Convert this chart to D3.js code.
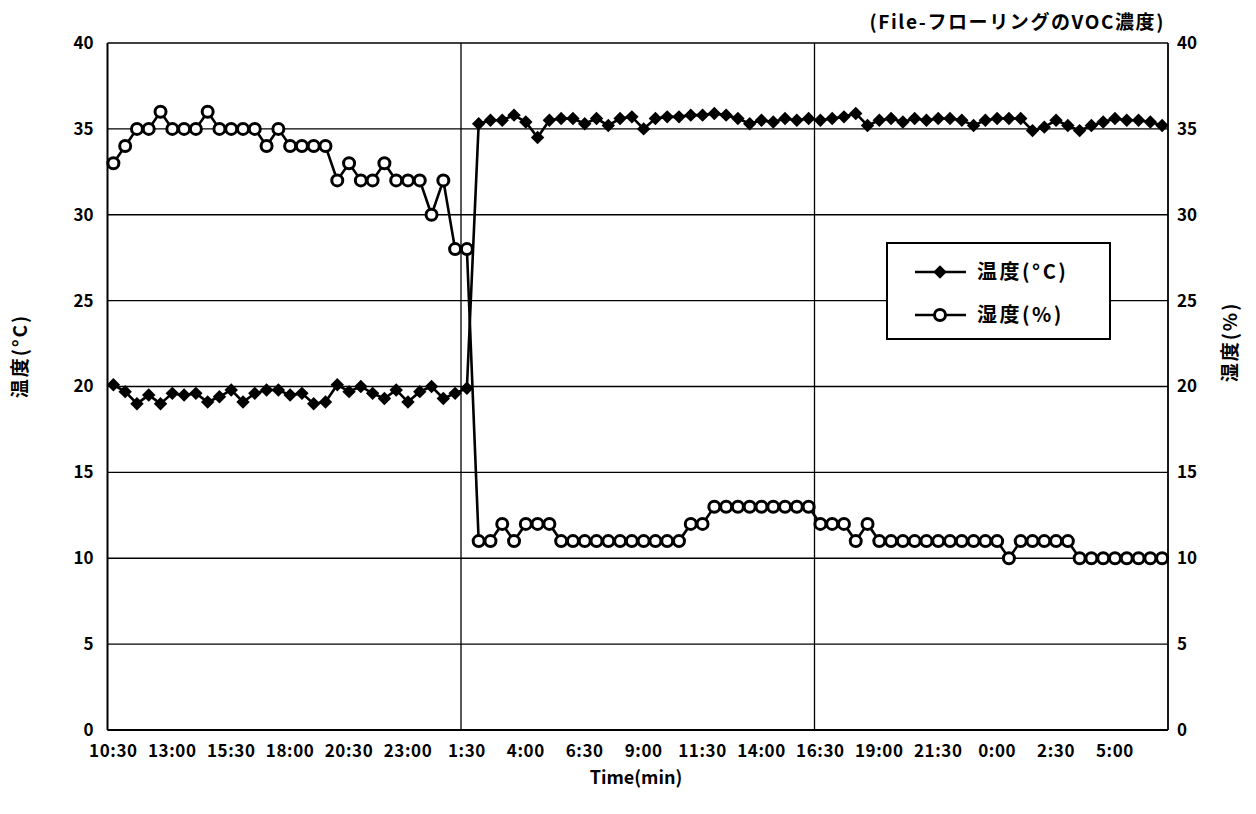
<!DOCTYPE html>
<html>
<head>
<meta charset="utf-8">
<script src="https://cdn.jsdelivr.net/npm/d3@7"></script>
<style>
  body { margin: 0; background: #fff; }
  text { font-family: "Noto Sans CJK JP", "Noto Sans", sans-serif; fill: #000; }
</style>
</head>
<body>
<div id="chart"></div>
<script>
// time labels shown on the x axis (one every 5 readings, readings every 30 min)
const tickLabels = ["10:30", "13:00", "15:30", "18:00", "20:30", "23:00", "1:30", "4:00", "6:30",
  "9:00", "11:30", "14:00", "16:30", "19:00", "21:30", "0:00", "2:30", "5:00"];

// temperature (°C), left axis
const temperature = [
  20.1, 19.7, 19.0, 19.5, 19.0, 19.6, 19.5, 19.6, 19.1, 19.4, 19.8, 19.1, 19.6, 19.8, 19.8, 19.5,
  19.6, 19.0, 19.1, 20.1, 19.7, 20.0, 19.6, 19.3, 19.8, 19.1, 19.7, 20.0, 19.3, 19.6, 19.9,
  35.3, 35.5, 35.5, 35.8, 35.4, 34.5, 35.5, 35.6, 35.6, 35.3, 35.6, 35.2, 35.6, 35.7, 35.0, 35.6,
  35.7, 35.7, 35.8, 35.8, 35.9, 35.8, 35.6, 35.3, 35.5, 35.4, 35.6, 35.5, 35.6,
  35.5, 35.6, 35.7, 35.9, 35.2, 35.5, 35.6, 35.4, 35.6, 35.5, 35.6, 35.6, 35.5, 35.2, 35.5, 35.6,
  35.6, 35.6, 34.9, 35.1, 35.5, 35.2, 34.9, 35.2, 35.4, 35.6, 35.5, 35.5, 35.4, 35.2
];

// humidity (%), right axis
const humidity = [
  33, 34, 35, 35, 36, 35, 35, 35, 36, 35, 35, 35, 35, 34, 35, 34, 34, 34, 34, 32, 33, 32, 32, 33,
  32, 32, 32, 30, 32, 28, 28,
  11, 11, 12, 11, 12, 12, 12, 11, 11, 11, 11, 11, 11, 11, 11, 11, 11, 11, 12, 12,
  13, 13, 13, 13, 13, 13, 13, 13, 13, 12, 12, 12, 11, 12,
  11, 11, 11, 11, 11, 11, 11, 11, 11, 11, 11, 10, 11, 11, 11, 11, 11,
  10, 10, 10, 10, 10, 10, 10, 10
];

const yTicks = [0, 5, 10, 15, 20, 25, 30, 35, 40];

const W = 1256, H = 814;
const plotL = 107.5, plotR = 1168, plotT = 43, plotB = 730;

const svg = d3.select("#chart").append("svg")
  .attr("width", W)
  .attr("height", H);

const idx = d3.range(temperature.length);

var x = d3.scaleBand()
  .domain(idx)
  .range([plotL, plotR]);

var y = d3.scaleLinear()
  .domain([0, 40])
  .range([plotB, plotT]);

var y2 = d3.scaleLinear()
  .domain([0, 40])
  .range([plotB, plotT]);

const cx = i => x(i) + x.bandwidth() / 2;

// horizontal gridlines
svg.append("g")
  .selectAll("line")
  .data(yTicks)
  .enter()
  .append("line")
  .attr("x1", plotL).attr("x2", plotR)
  .attr("y1", d => y(d)).attr("y2", d => y(d))
  .attr("stroke", "#000")
  .attr("stroke-width", 1.4);

// vertical gridlines every 30 readings
svg.append("g")
  .selectAll("line")
  .data([30, 60])
  .enter()
  .append("line")
  .attr("x1", d => x(d)).attr("x2", d => x(d))
  .attr("y1", plotT).attr("y2", plotB)
  .attr("stroke", "#000")
  .attr("stroke-width", 1.3);

// frame sides
svg.append("line").attr("x1", plotL).attr("x2", plotL).attr("y1", plotT).attr("y2", plotB)
  .attr("stroke", "#000").attr("stroke-width", 2);
svg.append("line").attr("x1", plotR).attr("x2", plotR).attr("y1", plotT).attr("y2", plotB)
  .attr("stroke", "#000").attr("stroke-width", 1.8);
svg.append("line").attr("x1", plotL).attr("x2", plotR).attr("y1", plotB).attr("y2", plotB)
  .attr("stroke", "#000").attr("stroke-width", 2);

// left axis labels
const yAxisL = svg.append("g")
  .attr("transform", "translate(" + plotL + ",0)")
  .call(d3.axisLeft(y).tickValues(yTicks).tickSize(0).tickPadding(14));
yAxisL.select(".domain").remove();
yAxisL.selectAll("text")
  .style("font-size", "17px").style("font-weight", "bold")
  .style("font-family", "'Noto Sans CJK JP', sans-serif");

// right axis labels
const yAxisR = svg.append("g")
  .attr("transform", "translate(" + plotR + ",0)")
  .call(d3.axisRight(y2).tickValues(yTicks).tickSize(0).tickPadding(9));
yAxisR.select(".domain").remove();
yAxisR.selectAll("text")
  .style("font-size", "17px").style("font-weight", "bold")
  .style("font-family", "'Noto Sans CJK JP', sans-serif");

// x axis labels, one every 5 categories
const xAxis = svg.append("g")
  .attr("transform", "translate(0," + plotB + ")")
  .call(d3.axisBottom(x)
    .tickValues(idx.filter(i => i % 5 === 0))
    .tickFormat(i => tickLabels[i / 5])
    .tickSize(0).tickPadding(15));
xAxis.select(".domain").remove();
xAxis.selectAll("text")
  .style("font-size", "17px").style("font-weight", "bold")
  .style("letter-spacing", "0.6px")
  .style("font-family", "'Noto Sans CJK JP', sans-serif");

// temperature line + diamonds
var tLine = d3.line()
  .x((d, i) => cx(i))
  .y(d => y(d));

svg.append("path")
  .datum(temperature)
  .attr("d", tLine)
  .attr("fill", "none")
  .attr("stroke", "#000")
  .attr("stroke-width", 2.6);

var diamond = d3.symbol().type(d3.symbolDiamond2).size(115);

svg.append("g")
  .selectAll("path")
  .data(temperature)
  .enter()
  .append("path")
  .attr("d", diamond)
  .attr("transform", (d, i) => "translate(" + cx(i) + "," + y(d) + ")")
  .attr("fill", "#000");

// humidity line + open circles
var hLine = d3.line()
  .x((d, i) => cx(i))
  .y(d => y2(d));

svg.append("path")
  .datum(humidity)
  .attr("d", hLine)
  .attr("fill", "none")
  .attr("stroke", "#000")
  .attr("stroke-width", 2.6);

svg.append("g")
  .selectAll("circle")
  .data(humidity)
  .enter()
  .append("circle")
  .attr("cx", (d, i) => cx(i))
  .attr("cy", d => y2(d))
  .attr("r", 5.5)
  .attr("fill", "#fff")
  .attr("stroke", "#000")
  .attr("stroke-width", 3);

// legend
const lg = svg.append("g");
lg.append("rect")
  .attr("x", 887).attr("y", 243)
  .attr("width", 223).attr("height", 96)
  .attr("fill", "#fff")
  .attr("stroke", "#000")
  .attr("stroke-width", 2);

const legendItems = [
  { label: "温度(°C)", kind: "diamond", yy: 272 },
  { label: "湿度(%)", kind: "circle", yy: 315 }
];

legendItems.forEach(it => {
  lg.append("line")
    .attr("x1", 915).attr("x2", 966)
    .attr("y1", it.yy).attr("y2", it.yy)
    .attr("stroke", "#000").attr("stroke-width", 2.6);
  if (it.kind === "diamond") {
    lg.append("path")
      .attr("d", diamond)
      .attr("transform", "translate(940," + it.yy + ")")
      .attr("fill", "#000");
  } else {
    lg.append("circle")
      .attr("cx", 940).attr("cy", it.yy).attr("r", 5.5)
      .attr("fill", "#fff").attr("stroke", "#000").attr("stroke-width", 3);
  }
  lg.append("text")
    .attr("x", 977).attr("y", it.yy)
    .attr("dy", "0.36em")
    .style("font-size", "20px").style("font-weight", "bold")
    .style("letter-spacing", "2.5px")
    .text(it.label);
});

// axis titles
svg.append("text")
  .attr("transform", "translate(27,356) rotate(-90)")
  .attr("text-anchor", "middle")
  .style("font-size", "19px").style("font-weight", "bold")
  .style("letter-spacing", "2px")
  .text("温度(°C)");

svg.append("text")
  .attr("transform", "translate(1237,342) rotate(-90)")
  .attr("text-anchor", "middle")
  .style("font-size", "19px").style("font-weight", "bold")
  .style("letter-spacing", "2px")
  .text("湿度(%)");

svg.append("text")
  .attr("x", 636).attr("y", 784)
  .attr("text-anchor", "middle")
  .style("font-size", "18px").style("font-weight", "bold")
  .text("Time(min)");

svg.append("text")
  .attr("x", 1165).attr("y", 29)
  .attr("text-anchor", "end")
  .style("font-size", "19px").style("font-weight", "bold")
  .style("letter-spacing", "1.6px")
  .text("(File-フローリングのVOC濃度)");
</script>
</body>
</html>
